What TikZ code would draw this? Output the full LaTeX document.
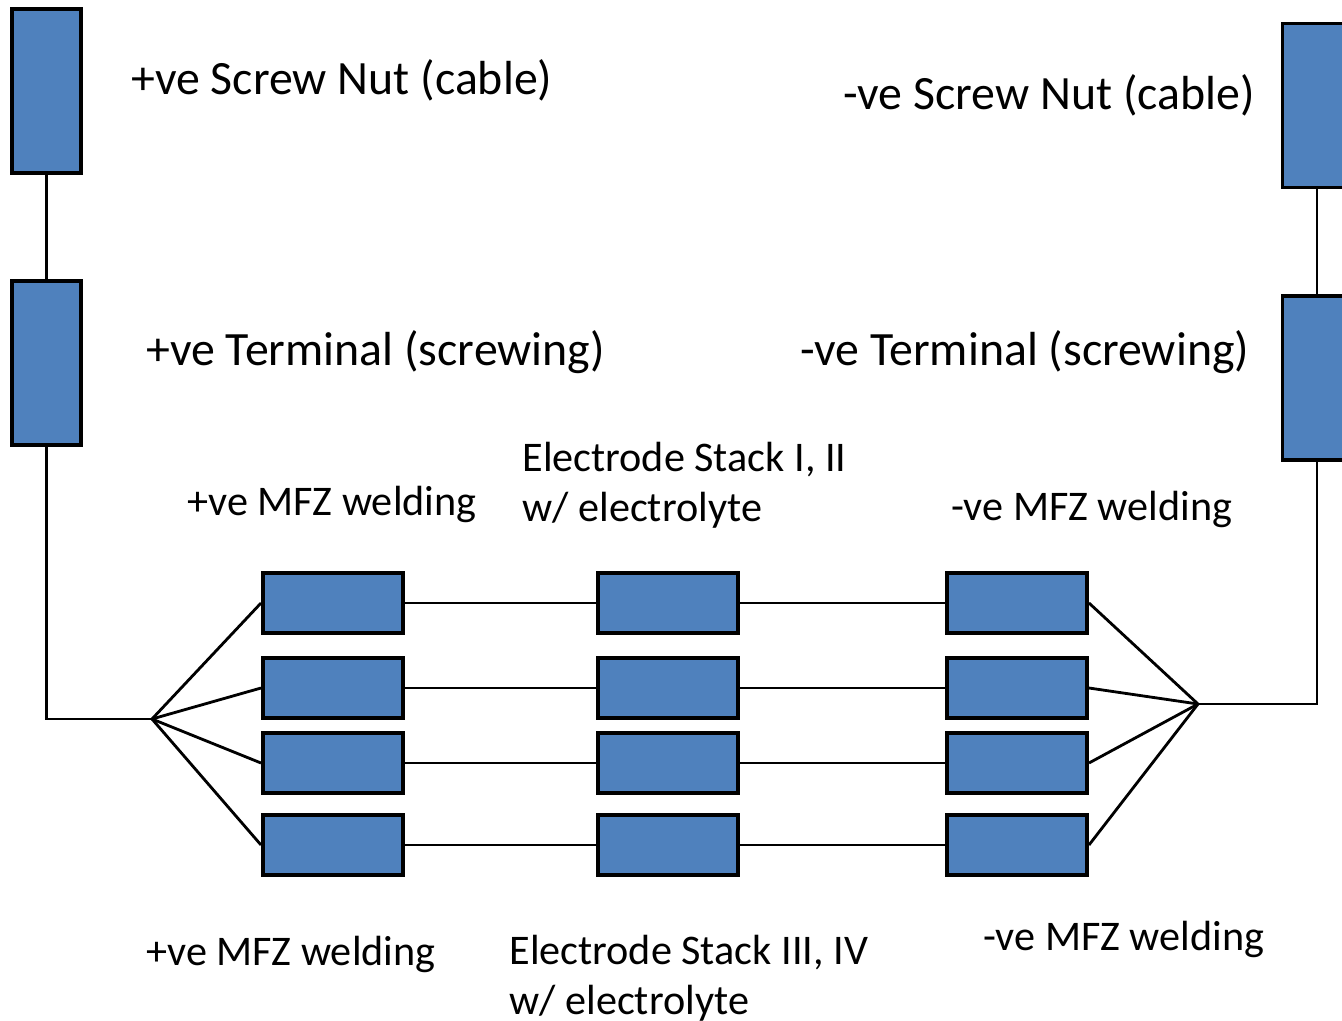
\documentclass[tikz,border=0pt]{standalone}
\usepackage{fontspec}
\setmainfont{Carlito}
\definecolor{boxblue}{RGB}{79,129,189}
\begin{document}
\begin{tikzpicture}[x=0.01cm,y=-0.01cm,thick]
  \tikzstyle{block}=[draw,rectangle,line width=1.1pt,fill=boxblue,inner sep=0pt]
  \tikzstyle{post}=[block,minimum width=0.69cm,minimum height=1.64cm]
  \tikzstyle{cell}=[block,minimum width=1.4cm,minimum height=0.6cm]
  \tikzstyle{big}=[inner sep=0pt,anchor=west,font=\fontsize{13.6}{16}\selectfont]
  \tikzstyle{lbl}=[inner sep=0pt,anchor=west,align=left,font=\fontsize{12}{14.2}\selectfont]
  \def\xp{333}	% x of +ve welding column
  \def\xs{668}	% x of electrode stacks
  \def\xn{1017}	% x of -ve welding column
  \clip (0,0) rectangle (1342,1021);
  % posts on both sides
  \node[post] (nutP) at (46.5,91) {};
  \node[post] (termP) at (46.5,363) {};
  \node[post] (nutN) at (1317,105.5) {};
  \node[post] (termN) at (1317,378) {};
  \coordinate (jp) at (152,719);
  \coordinate (jn) at (1198,704);
  \draw (nutP) -- (termP);
  \draw (nutN) -- (termN);
  \draw (termP.south) |- (jp);
  \draw (jn) -| (termN.south);
  % the four rows
  \foreach \r/\y in {1/603,2/688,3/763,4/845} {
    \node[cell] (p\r) at (\xp,\y) {};
    \node[cell] (s\r) at (\xs,\y) {};
    \node[cell] (n\r) at (\xn,\y) {};
    \draw (jp) -- (p\r.west);
    \draw (p\r) -- (s\r);
    \draw (s\r) -- (n\r);
    \draw (n\r.east) -- (jn);
  }
  % labels
  \node[big] (tNutP) at (130,80) {+ve Screw Nut (cable)};
  \node[big] (tNutN) at (842,95) {-ve Screw Nut (cable)};
  \node[big] (tTermP) at (145,352) {+ve Terminal (screwing)};
  \node[big] (tTermN) at (799,352) {-ve Terminal (screwing)};
  \node[lbl] (tWeldP) at (186,504) {+ve MFZ welding};
  \node[lbl] (tStackA) at (521,485) {Electrode Stack I, II\\w/ electrolyte};
  \node[lbl] (tWeldN) at (950,509) {-ve MFZ welding};
  \node[lbl] (tWeldPb) at (145,954) {+ve MFZ welding};
  \node[lbl] (tStackB) at (508,978) {Electrode Stack III, IV\\w/ electrolyte};
  \node[lbl] (tWeldNb) at (982,939) {-ve MFZ welding};
\end{tikzpicture}
\end{document}
